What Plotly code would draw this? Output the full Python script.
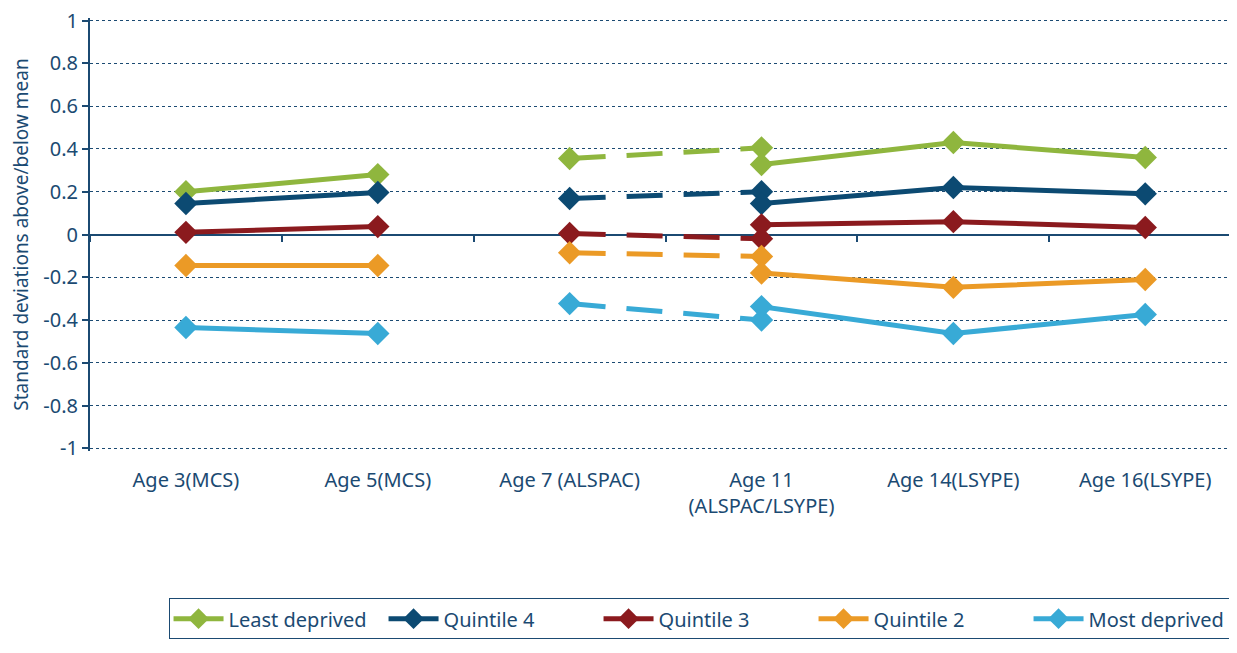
import plotly.graph_objects as go

ages = ["Age 3(MCS)", "Age 5(MCS)", "Age 7 (ALSPAC)", "Age 11<br>(ALSPAC/LSYPE)",
        "Age 14(LSYPE)", "Age 16(LSYPE)"]
groups = ["Least deprived", "Quintile 4", "Quintile 3", "Quintile 2", "Most deprived"]
colors = ["#8fb63e", "#0c4a72", "#8b1a1e", "#eb9a26", "#38aad6"]

# MCS (ages 3, 5)
mcs = [
    [0.20, 0.28],
    [0.145, 0.196],
    [0.01, 0.037],
    [-0.145, -0.145],
    [-0.435, -0.463],
]
# ALSPAC (ages 7, 11) - dashed
alspac = [
    [0.355, 0.405],
    [0.168, 0.20],
    [0.005, -0.02],
    [-0.085, -0.103],
    [-0.323, -0.40],
]
# LSYPE (ages 11, 14, 16)
lsype = [
    [0.327, 0.43, 0.36],
    [0.145, 0.22, 0.19],
    [0.045, 0.06, 0.033],
    [-0.18, -0.247, -0.21],
    [-0.337, -0.463, -0.374],
]
yticks = [-1, -0.8, -0.6, -0.4, -0.2, 0, 0.2, 0.4, 0.6, 0.8, 1]
ylabels = ["-1", "-0.8", "-0.6", "-0.4", "-0.2", "0", "0.2", "0.4", "0.6", "0.8", "1"]

txt = "#1b4a72"
fig = go.Figure()

for i, g in enumerate(groups):
    mk = dict(symbol="diamond", size=18, color=colors[i])
    fig.add_trace(go.Scatter(x=ages[0:2], y=mcs[i], mode="lines+markers", name=g,
                             legendgroup=g, line=dict(color=colors[i], width=5), marker=mk))
    fig.add_trace(go.Scatter(x=ages[2:4], y=alspac[i], mode="lines+markers", name=g,
                             legendgroup=g, showlegend=False,
                             line=dict(color=colors[i], width=5, dash="36px,21px"), marker=mk))
    fig.add_trace(go.Scatter(x=ages[3:6], y=lsype[i], mode="lines+markers", name=g,
                             legendgroup=g, showlegend=False,
                             line=dict(color=colors[i], width=5), marker=mk))

xrange = [-0.5, 5.52]

fig.update_layout(
    width=1237, height=653,
    autosize=False,
    plot_bgcolor="white",
    paper_bgcolor="white",
    font=dict(family="Noto Sans", size=19, color=txt),
    # page body has an 8px margin, so pull the plot up/left by that much
    margin=dict(l=82, r=0, t=10, b=210, autoexpand=False),
    xaxis=dict(
        type="category",
        categoryorder="array",
        categoryarray=ages,
        range=xrange,
        showgrid=False,
        showline=False,
        zeroline=False,
        ticks="",
        automargin=False,
        ticklabelstandoff=15,
        tickfont=dict(size=20, color=txt),
    ),
    xaxis2=dict(
        type="category",
        categoryorder="array",
        categoryarray=ages,
        range=xrange,
        overlaying="x",
        anchor="free",
        position=0.5,
        showgrid=False,
        showline=False,
        zeroline=False,
        showticklabels=False,
        ticks="outside",
        tickson="boundaries",
        ticklen=6,
        tickwidth=2,
        tickcolor=txt,
        automargin=False,
    ),
    yaxis=dict(
        range=[-1.012, 1.012],
        tickmode="array",
        tickvals=yticks,
        ticktext=ylabels,
        ticklabeloverflow="allow",
        showgrid=True,
        gridcolor=txt,
        griddash="dot",
        gridwidth=1,
        zeroline=True,
        zerolinecolor=txt,
        zerolinewidth=2,
        showline=True,
        linecolor=txt,
        linewidth=2,
        ticks="outside",
        ticklen=6,
        tickwidth=2,
        tickcolor=txt,
        automargin=False,
        title=dict(text="Standard deviations above/below mean", font=dict(size=19, color=txt), standoff=16),
        tickfont=dict(size=20, color=txt),
    ),
    legend=dict(
        orientation="h",
        x=0.068, xanchor="left",
        y=-0.34, yanchor="top",
        bordercolor=txt,
        borderwidth=1,
        font=dict(size=20, color=txt),
        itemwidth=50,
        entrywidth=150,
        entrywidthmode="pixels",
    ),
)
# invisible trace so the zero-line tick axis renders
fig.add_trace(go.Scatter(x=[ages[0]], y=[None], xaxis="x2", showlegend=False, hoverinfo="skip"))

fig.write_html("out.html")
